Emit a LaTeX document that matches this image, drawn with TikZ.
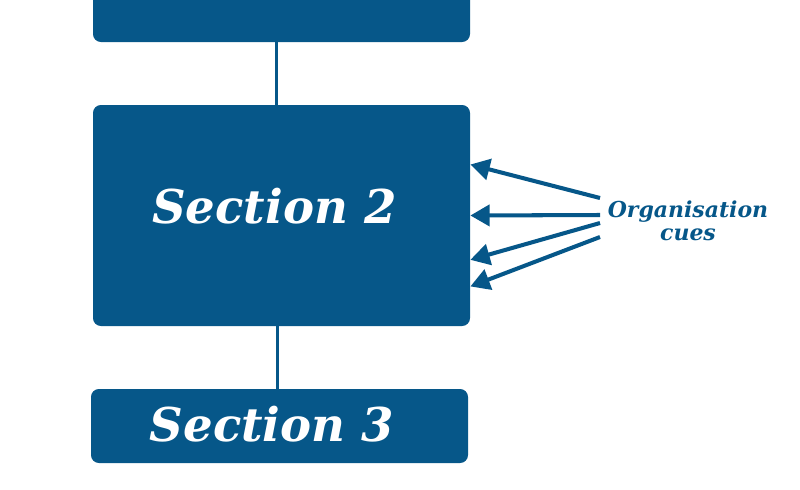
\documentclass[tikz,border=0pt]{standalone}
\usepackage{fontspec}
\setmainfont{DejaVu Serif}
\usetikzlibrary{arrows.meta,calc,positioning}
\definecolor{secblue}{RGB}{6,87,137}
\begin{document}
\begin{tikzpicture}[
secbox/.style={fill=secblue,rounded corners=4.5pt,inner sep=0pt,text=white,minimum width=7.54cm,font=\fontsize{26.5}{30}\selectfont\bfseries\itshape},
link/.style={draw=secblue,line width=2.2pt},
cuearrow/.style={draw=secblue,line width=2.3pt,-{Triangle[length=11pt,width=12pt]}}]
\useasboundingbox (0,0) rectangle (16,-9.78);
\clip (0,0) rectangle (16,-9.78);
\node[secbox,minimum height=2cm] (sec1) at (5.63,0.16) {};
\node[secbox,minimum height=4.42cm] (sec2) at (5.63,-4.31) {\raisebox{0.4cm}{Section 2\hspace*{0.28cm}}};
\node[secbox,minimum height=1.48cm] (sec3) at (5.59,-8.52) {\raisebox{0.1cm}{Section 3\hspace*{0.3cm}}};
\draw[link] ([xshift=-0.1cm]sec1.south) -- ([xshift=-0.1cm]sec2.north);
\draw[link] ([xshift=-0.08cm]sec2.south) -- ([xshift=-0.04cm]sec3.north);
\node[text=secblue,align=center,inner sep=0pt,font=\fontsize{12.5}{13}\selectfont\bfseries\itshape] (cues) at (13.76,-4.42) {Organisation\\cues};
\coordinate (c1) at (12.0,-3.96);
\coordinate (c2) at (12.0,-4.30);
\coordinate (c3) at (12.0,-4.46);
\coordinate (c4) at (12.0,-4.74);
\draw[cuearrow] (c1) -- ($(sec2.north east)!0.27!(sec2.south east)$);
\draw[cuearrow] (c2) -- ($(sec2.north east)!0.5!(sec2.south east)$);
\draw[cuearrow] (c3) -- ($(sec2.north east)!0.70!(sec2.south east)$);
\draw[cuearrow] (c4) -- ($(sec2.north east)!0.82!(sec2.south east)$);
\end{tikzpicture}
\end{document}
